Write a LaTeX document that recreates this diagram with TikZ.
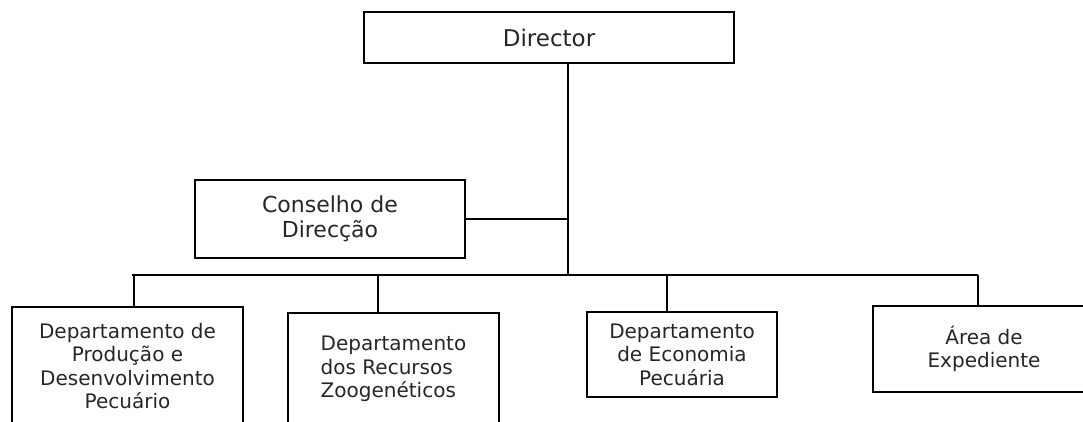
\documentclass[tikz,border=0pt]{standalone}
\usepackage{fontspec}
\setmainfont{DejaVu Sans}
\begin{document}
\begin{tikzpicture}[x=1pt,y=-1pt,
  box/.style={draw=black,line width=1.6pt,rectangle,inner sep=0pt,align=center,text=black!85},
  link/.style={draw=black,line width=1.6pt},
  f20/.style={font=\fontsize{20}{23.5}\selectfont},
  f22/.style={font=\fontsize{22}{25}\selectfont}]
\useasboundingbox (0,0) rectangle (1083,421);
\clip (0,0) rectangle (1083,421);
\node[box,font=\fontsize{23}{26}\selectfont,minimum width=370pt,minimum height=51pt] (dir) at (549,37.5) {Director};
\node[box,f22,minimum width=270pt,minimum height=78pt] (cons) at (330,219) {Conselho de\\Direcção};
\node[box,f20,minimum width=231pt,minimum height=118pt] (d1) at (127.5,366) {Departamento de\\Produção e\\Desenvolvimento\\Pecuário};
\node[box,f20,minimum width=211pt,minimum height=112pt,align=left] (d2) at (393.5,369) {Departamento\\dos Recursos\\Zoogenéticos};
\node[box,f20,minimum width=190pt,minimum height=85pt] (d3) at (682,354.5) {Departamento\\de Economia\\Pecuária};
\node[box,f20,minimum width=240pt,minimum height=86pt] (d4) at (993,349) {\hspace*{-18pt}Área de\\\hspace*{-18pt}Expediente};
\coordinate (bl) at (132,275);
\coordinate (br) at (978,275);
\coordinate (dv) at (568,275);
\coordinate (b1) at (134,275);
\coordinate (b2) at (378,275);
\coordinate (b3) at (667,275);
\coordinate (b4) at (978,275);
\draw[link] (dv |- dir.south) -- (dv);
\draw[link] (cons.east) -- (cons.east -| dv);
\draw[link] (bl) -- (br);
\draw[link] (b1) -- (b1 |- d1.north);
\draw[link] (b2) -- (b2 |- d2.north);
\draw[link] (b3) -- (b3 |- d3.north);
\draw[link] (b4) -- (b4 |- d4.north);
\end{tikzpicture}
\end{document}
